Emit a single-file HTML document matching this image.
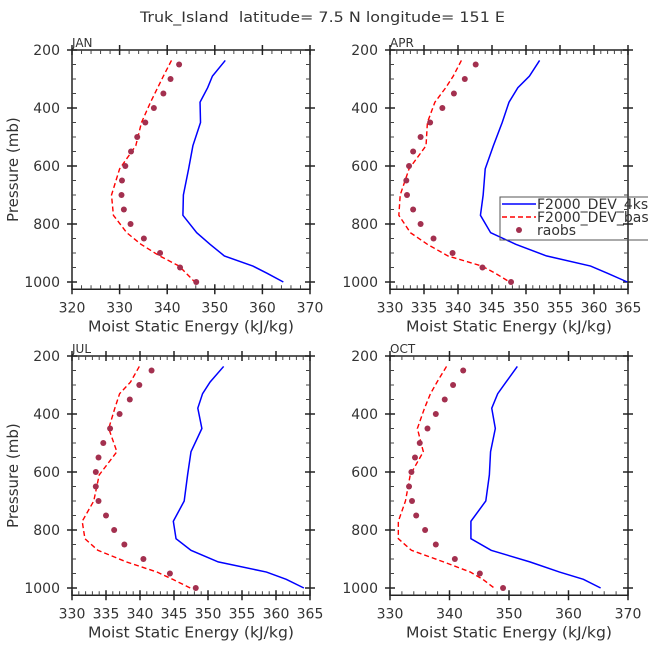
<!DOCTYPE html>
<html><head><meta charset="utf-8"><style>
body{margin:0;background:#fff}
svg text{font-family:"DejaVu Sans","Liberation Sans",sans-serif;fill:#333;white-space:pre}
</style></head><body>
<svg id="c" width="648" height="648" viewBox="0 0 648 648">
<text x="140" y="22" font-size="14" textLength="365" lengthAdjust="spacingAndGlyphs">Truk_Island  latitude= 7.5 N longitude= 151 E</text>
</svg>
<script>
const levels=[236,290,330,380,450,530,610,700,770,830,870,910,945,970,1000];
const obsLevels=[250,300,350,400,450,500,550,600,650,700,750,800,850,900,950,1000];
const months=["JAN","APR","JUL","OCT"];
const seriesNames=["F2000_DEV_4kss","F2000_DEV_base","raobs"];
const janBlue=[352.2,349.5,348.5,346.9,347,345.4,344.5,343.4,343.3,346.2,349,352,358,361,364.4];
const janRed=[340.9,339.2,338,336.5,334.6,333.4,330,328.3,328.7,331.5,334.5,338.4,342.5,344,345.8];
const janObs=[342.5,340.7,339.2,337.2,335.4,333.7,332.4,331.2,330.5,330.4,330.9,332.3,335.1,338.5,342.7,346.1];
const aprBlue=[352,350.5,348.8,347.5,346.5,345.2,344,343.7,343.3,344.8,348.5,353,359.5,362,364.9];
const aprRed=[340.5,339.3,338.2,336.6,335.5,335.3,332.8,331.5,331.3,333,335.5,338.5,343.5,345.5,347.6];
const aprObs=[342.6,341,339.4,337.7,335.9,334.5,333.4,332.8,332.4,332.5,333.4,334.5,336.4,339.2,343.6,347.8];
const julBlue=[352.3,350.3,349.2,348.5,349.1,347.5,347,346.5,344.9,345.3,347.5,351.5,358.6,361.5,364.1];
const julRed=[339.9,338.6,337,336.3,335.4,336.6,334,333.2,331.5,331.9,333.8,338,342.5,344.8,347.4];
const julObs=[341.7,339.9,338.5,337,335.6,334.6,333.9,333.5,333.5,333.9,335,336.2,337.7,340.5,344.4,348.2];
const octBlue=[351.4,349.5,348.1,347.1,347.7,346.9,346.7,346.1,343.6,343.6,347,353.5,358.5,362.5,365.4];
const octRed=[339.5,337.9,336.8,335.8,334.6,335.6,333.4,332.6,331.4,331.4,333.6,339,343.5,345.6,347.5];
const octObs=[342.3,340.6,339.2,337.7,336.3,335,334.2,333.6,333.2,333.7,334.4,335.9,337.7,340.9,345.1,349];
const xMin=[320,330,330,330], xMax=[370,365,365,370];
const xMajor=[10,5,5,10], xMinor=[2,1,1,2];
const yTicks=[200,400,600,800,1000];
const blues=[janBlue,aprBlue,julBlue,octBlue], reds=[janRed,aprRed,julRed,octRed], obs=[janObs,aprObs,julObs,octObs];

const svg=document.getElementById('c');
const NS="http://www.w3.org/2000/svg";
function mk(t,a,p){const e=document.createElementNS(NS,t);for(const k in a)e.setAttribute(k,a[k]);(p||svg).appendChild(e);return e;}
const panels=[{x0:72,x1:310,top:50},{x0:390,x1:628,top:50},{x0:72,x1:310,top:356},{x0:390,x1:628,top:356}];
panels.forEach((P,i)=>{
  const g=mk('g',{});
  
  
  const ppx=232/800;
  const ys=p=>P.top+(p-200)*ppx;
  const bottom=ys(1025);
  const xs=v=>P.x0+(v-xMin[i])/(xMax[i]-xMin[i])*(P.x1-P.x0);
  const frame=mk('rect',{x:P.x0,y:P.top,width:P.x1-P.x0,height:bottom-P.top,fill:'none',stroke:'#222','stroke-width':1.5},g);
  
  
  const lab=mk('text',{x:P.x0,y:P.top-3,'font-size':12},g);lab.textContent=months[i];
  
  
  for(let v=xMin[i];v<=xMax[i]+1e-6;v+=xMinor[i]){
    const X=xs(v);const r=(v-xMin[i])%xMajor[i];const maj=Math.abs(r)<1e-6||Math.abs(r-xMajor[i])<1e-6;
    if(maj){
      mk('line',{x1:X,x2:X,y1:bottom-5,y2:bottom+5,stroke:'#222','stroke-width':1.5},g);
      mk('line',{x1:X,x2:X,y1:P.top-5,y2:P.top+5,stroke:'#222','stroke-width':1.5},g);
      const t=mk('text',{x:X,y:bottom+23,'font-size':14,'text-anchor':'middle'},g);t.textContent=v;
      
      
    }else{
      mk('line',{x1:X,x2:X,y1:bottom,y2:bottom-4,stroke:'#444'},g);
      mk('line',{x1:X,x2:X,y1:P.top,y2:P.top+4,stroke:'#444'},g);
    }
  }
  for(let p=200;p<=1000;p+=50){
    const Y=ys(p);
    if(p%200===0){
      mk('line',{x1:P.x0-5,x2:P.x0+5,y1:Y,y2:Y,stroke:'#222','stroke-width':1.5},g);
      mk('line',{x1:P.x1-5,x2:P.x1+5,y1:Y,y2:Y,stroke:'#222','stroke-width':1.5},g);
      const t=mk('text',{x:P.x0-12,y:Y+5,'font-size':14,'text-anchor':'end'},g);t.textContent=p;
      
      
    }else{
      mk('line',{x1:P.x0,x2:P.x0+4,y1:Y,y2:Y,stroke:'#444'},g);
      mk('line',{x1:P.x1,x2:P.x1-4,y1:Y,y2:Y,stroke:'#444'},g);
    }
  }
  const cx=(P.x0+P.x1)/2;
  const xt=mk('text',{x:cx-103,y:bottom+42,'font-size':15,textLength:206,lengthAdjust:'spacingAndGlyphs'},g);xt.textContent='Moist Static Energy (kJ/kg)';
  
  
  if(i%2===0){
    const cy=(P.top+bottom)/2;
    const yt=mk('text',{x:cy,y:0,'font-size':15,'text-anchor':'middle',transform:`translate(18 ${2*cy}) rotate(-90)`},g);
    yt.setAttribute('x',cy);
    yt.textContent='Pressure (mb)';
    
    
  }
  const pb=mk('polyline',{points:levels.map((p,k)=>xs(blues[i][k])+','+ys(p)).join(' '),fill:'none',stroke:'#0000ff','stroke-width':1.5},g);
  
  
  const pr=mk('polyline',{points:levels.map((p,k)=>xs(reds[i][k])+','+ys(p)).join(' '),fill:'none',stroke:'#ff0000','stroke-width':1.4,'stroke-dasharray':'5,3'},g);
  
  
  obsLevels.forEach((p,k)=>{
    const c=mk('circle',{cx:xs(obs[i][k]),cy:ys(p),r:3,fill:'#a3304f'},g);
    
    
  });
});
const lg=mk('g',{});


mk('rect',{x:500,y:197,width:160,height:43,fill:'none',stroke:'#555'},lg);
mk('line',{x1:502,x2:536,y1:204,y2:204,stroke:'#0000ff','stroke-width':1.5},lg);
mk('line',{x1:502,x2:536,y1:217,y2:217,stroke:'#ff0000','stroke-width':1.4,'stroke-dasharray':'5,3'},lg);
mk('circle',{cx:519,cy:230,r:3,fill:'#a3304f'},lg);
[204,217,230].forEach((y,k)=>{
  const t=mk('text',{x:537,y:y+5,'font-size':14},lg);t.textContent=seriesNames[k];
  
  
});
</script>
</body></html>
